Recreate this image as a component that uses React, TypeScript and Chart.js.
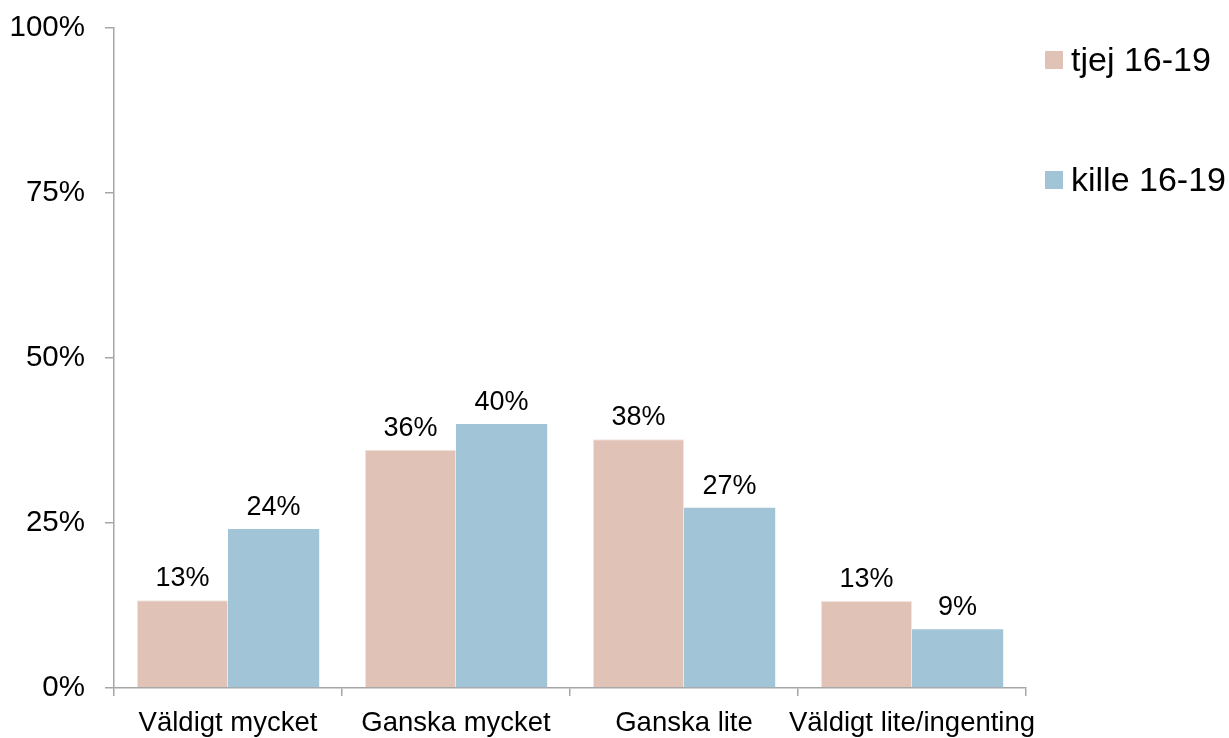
import React, { useEffect, useRef } from "react";
import { Chart, registerables } from "chart.js";

Chart.register(...registerables);

const categories = ["Väldigt mycket", "Ganska mycket", "Ganska lite", "Väldigt lite/ingenting"];
const seriesNames = ["tjej 16-19", "kille 16-19"];
const tjejValues = [13.3, 36.1, 37.7, 13.2];
const killeValues = [24.1, 40.0, 27.3, 8.9];
const seriesColors = ["#E0C2B7", "#A2C4D7"];
const yTickValues = [0, 25, 50, 75, 100];

const FONT = "'Liberation Sans', Arial, sans-serif";

const dataLabelPlugin = {
  id: "dataLabels",
  afterDatasetsDraw(chart: any) {
    const ctx = chart.ctx;
    ctx.save();
    ctx.font = `27px ${FONT}`;
    ctx.fillStyle = "#000";
    ctx.textAlign = "center";
    ctx.textBaseline = "alphabetic";
    chart.data.datasets.forEach((ds: any, di: number) => {
      const meta = chart.getDatasetMeta(di);
      meta.data.forEach((bar: any, i: number) => {
        const v = ds.data[i];
        ctx.fillText(Math.round(v) + "%", bar.x, bar.y - 14);
      });
    });
    ctx.restore();
  },
};

const legendPlugin = {
  id: "customLegend",
  afterDraw(chart: any) {
    const ctx = chart.ctx;
    const area = chart.chartArea;
    ctx.save();
    ctx.font = `34px ${FONT}`;
    ctx.textAlign = "left";
    ctx.textBaseline = "middle";
    chart.data.datasets.forEach((ds: any, di: number) => {
      const cx = area.right + 19;
      const cy = area.top + 32 + di * 120;
      ctx.fillStyle = ds.backgroundColor;
      ctx.fillRect(cx, cy - 9, 18, 18);
      ctx.fillStyle = "#000";
      ctx.fillText(ds.label, cx + 26, cy + 2);
    });
    ctx.restore();
  },
};

export default function App() {
  const canvasRef = useRef<HTMLCanvasElement | null>(null);

  useEffect(() => {
    if (!canvasRef.current) return;
    const chart = new Chart(canvasRef.current, {
      type: "bar",
      data: {
        labels: categories,
        datasets: [
          {
            label: seriesNames[0],
            data: tjejValues,
            backgroundColor: seriesColors[0],
            borderColor: "#F2E4DE",
            borderWidth: 1,
            categoryPercentage: 0.8,
            barPercentage: 1.0,
          },
          {
            label: seriesNames[1],
            data: killeValues,
            backgroundColor: seriesColors[1],
            borderColor: "#D0E2EC",
            borderWidth: 0,
            categoryPercentage: 0.8,
            barPercentage: 1.0,
          },
        ],
      },
      plugins: [dataLabelPlugin, legendPlugin],
      options: {
        animation: false,
        responsive: false,
        maintainAspectRatio: false,
        layout: { padding: { left: 0, right: 203, top: 28, bottom: 0 } },
        plugins: {
          legend: { display: false },
          tooltip: { enabled: false },
        },
        scales: {
          x: {
            grid: {
              display: true,
              drawOnChartArea: false,
              drawTicks: true,
              tickLength: 8,
              color: "#A6A6A6",
              lineWidth: 1.5,
              offset: true,
            },
            border: { display: true, color: "#A6A6A6", width: 1.5 },
            ticks: {
              color: "#000",
              font: { family: FONT, size: 27.5 },
              padding: 11,
              maxRotation: 0,
              autoSkip: false,
            },
            afterFit(scale: any) {
              scale.height = 50;
              scale.paddingLeft = 0;
              scale.paddingRight = 0;
            },
          },
          y: {
            min: 0,
            max: 100,
            afterBuildTicks(scale: any) {
              scale.ticks = yTickValues.map((v) => ({ value: v }));
            },
            grid: {
              display: true,
              drawOnChartArea: false,
              drawTicks: true,
              tickLength: 9,
              color: "#A6A6A6",
              lineWidth: 1.5,
            },
            border: { display: true, color: "#A6A6A6", width: 1.5 },
            ticks: {
              color: "#000",
              font: { family: FONT, size: 29.5 },
              padding: 20,
              callback: (v: any) => v + "%",
            },
            afterFit(scale: any) {
              scale.width = 114;
              scale.paddingTop = 0;
              scale.paddingBottom = 0;
            },
          },
        },
      },
    });
    return () => chart.destroy();
  }, []);

  return (
    <div style={{ position: "fixed", left: 0, top: 0, width: 1229, height: 738, background: "#fff" }}>
      <canvas ref={canvasRef} width={1229} height={738} style={{ width: 1229, height: 738 }} />
    </div>
  );
}
